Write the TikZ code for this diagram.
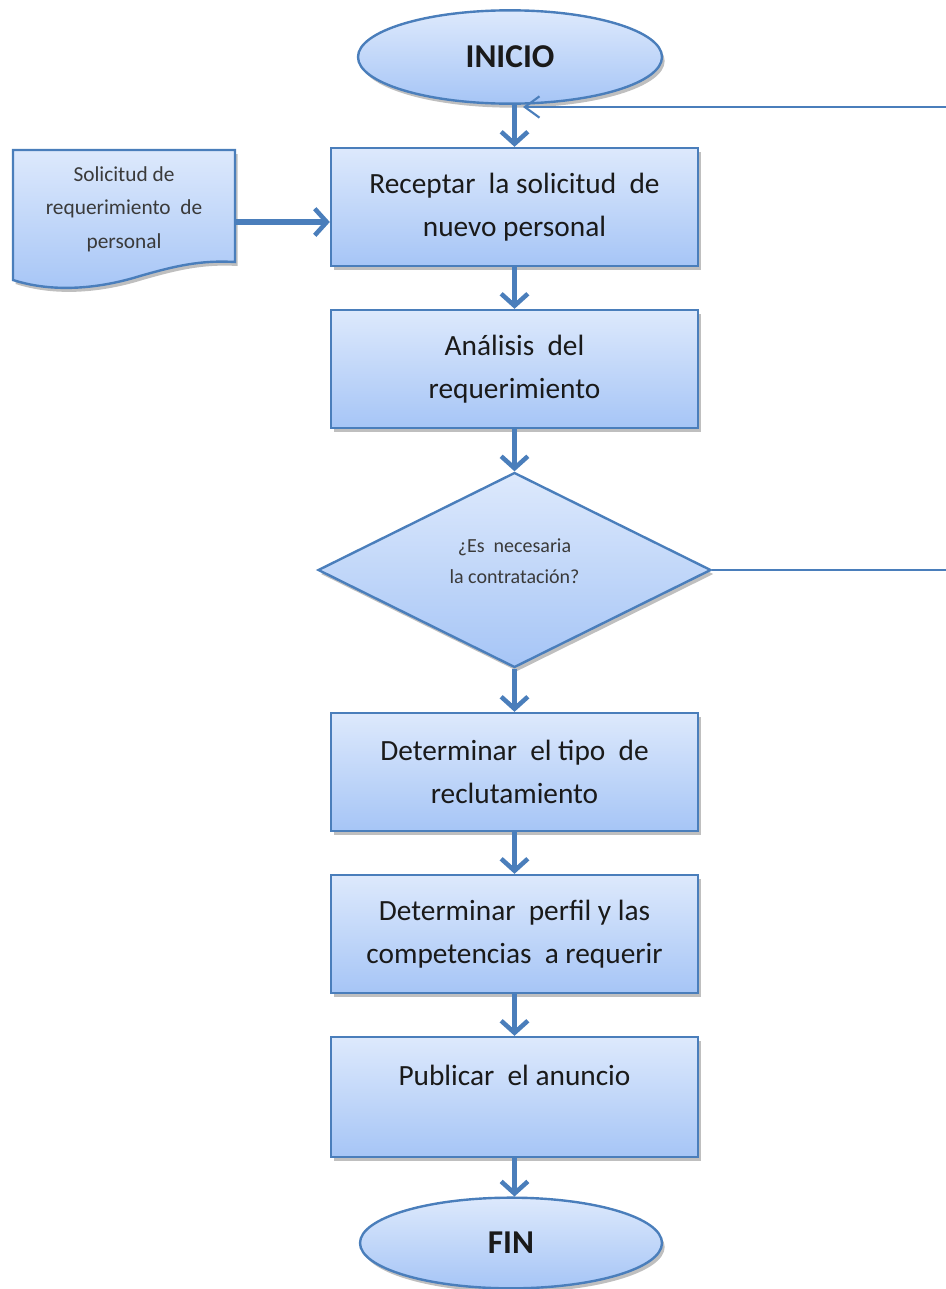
\documentclass[tikz,border=0pt]{standalone}
\usepackage{fontspec}
\setmainfont{Carlito}
\usetikzlibrary{shapes.geometric,arrows.meta,shadows,calc}
\definecolor{lineblue}{HTML}{4A7EBB}
\definecolor{filltop}{HTML}{DDE9FC}
\definecolor{fillbot}{HTML}{A6C5F6}
\definecolor{txt}{HTML}{1A1A1A}
\definecolor{txtgray}{HTML}{3A3A3A}
\begin{document}
\begin{tikzpicture}[x=0.75pt,y=-0.75pt,
  shapebase/.style={draw=lineblue, line width=1.8pt, top color=filltop, bottom color=fillbot,
    drop shadow={shadow xshift=2pt,shadow yshift=-3pt,opacity=0.25,fill=black}},
  procbox/.style={shapebase, rectangle, minimum width=275.25pt, minimum height=88.5pt,
    inner sep=0pt, align=center, text=txt, font=\fontsize{22}{32}\selectfont},
  term/.style={shapebase, ellipse, minimum width=228pt, minimum height=70pt, inner sep=0pt,
    text=txt, font=\fontsize{25}{30}\selectfont\bfseries},
  decision/.style={shapebase, diamond, minimum width=294.75pt, minimum height=146.25pt,
    inner sep=0pt},
  dectext/.style={inner sep=0pt, align=center, text=txtgray, font=\fontsize{15}{23}\selectfont},
  doctext/.style={rectangle, minimum width=166.5pt, minimum height=84pt, inner sep=0pt,
    align=center, text=txtgray, font=\fontsize{16}{25}\selectfont},
  flow/.style={draw=lineblue, line width=3.8pt, -{Straight Barb[length=9pt,width=20pt,line width=3.4pt]}},
  feedback/.style={draw=lineblue, line width=2.2pt, -{Straight Barb[length=11pt,width=16pt,line width=1.6pt]}}
]
\useasboundingbox (0,0) rectangle (946,1289);
\clip (0,0) rectangle (946,1289);

% document shape
\draw[shapebase] (13,150) -- (235,150) -- (235,262)
  .. controls (200,260) and (175,266) .. (140,276)
  .. controls (95,290) and (50,292) .. (13,280) -- cycle;
\node[doctext] (doc) at (124,209) {Solicitud de\\requerimiento\ \ de\\personal};

\node[term] (ini) at (510,57) {INICIO};
\node[procbox] (b1) at (514.5,207) {Receptar\ \ la solicitud\ \ de\\nuevo personal};
\node[procbox] (b2) at (514.5,369) {Análisis\ \ del\\requerimiento};
\node[decision] (dec) at (514.5,570) {};
\node[dectext] (dectxt) at ($(dec.center)+(0,-9)$) {¿Es\ \ necesaria\\la contratación?};
\node[procbox] (b3) at (514.5,772) {Determinar\ \ el tipo\ \ de\\reclutamiento};
\node[procbox] (b4) at (514.5,934) {Determinar\ \ perfil y las\\competencias\ \ a requerir};
\node[procbox, minimum height=90pt] (b5) at (514.5,1097) {Publicar\ \ el anuncio\\\mbox{}};
\node[term, minimum width=226.5pt, minimum height=68pt] (fin) at (511,1243) {FIN};

\coordinate (docy) at (0,222);
\coordinate (fbend) at (523,107);

\draw[flow] (ini.south -| b1.north) -- (b1.north);
\draw[flow] (doc.east |- docy) -- (b1.west |- docy);
\draw[flow] (b1.south) -- (b2.north);
\draw[flow] (b2.south) -- (dec.north);
\draw[flow] (dec.south) -- (b3.north);
\draw[flow] (b3.south) -- (b4.north);
\draw[flow] (b4.south) -- (b5.north);
\draw[flow] (b5.south) -- (fin.north -| b5.south);

\draw[feedback] (dec.east) -- (990,570) -- (990,107) -- (fbend);
\end{tikzpicture}
\end{document}
